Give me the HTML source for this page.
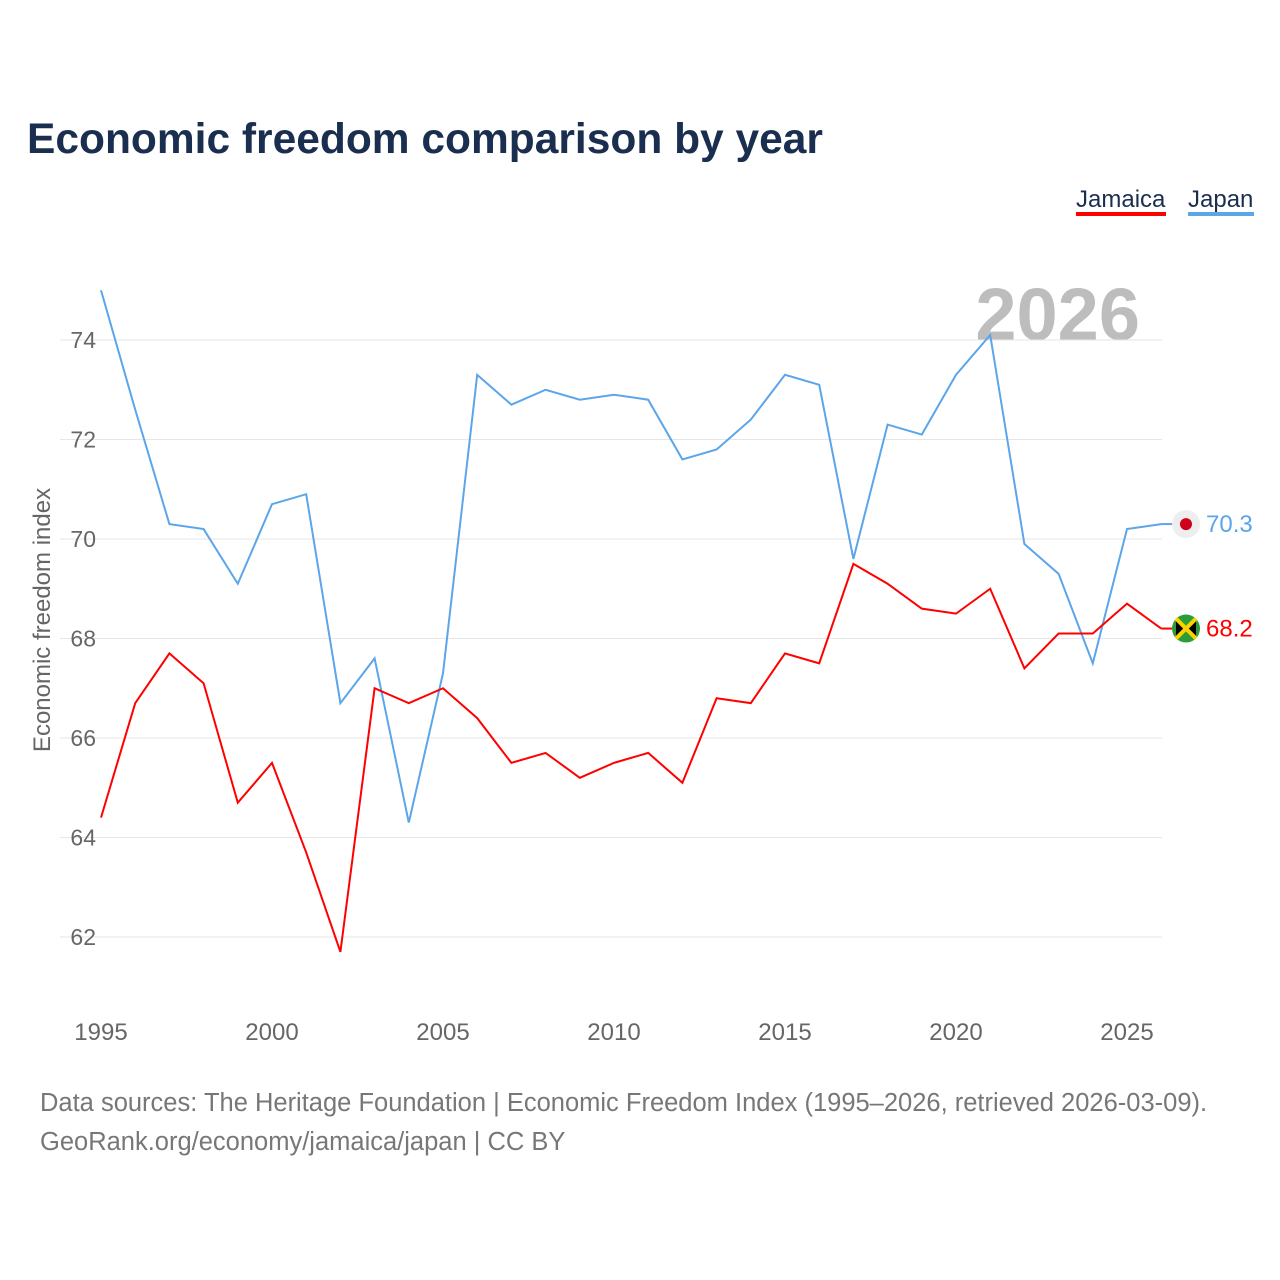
<!DOCTYPE html>
<html><head><meta charset="utf-8"><style>
body{margin:0;background:#fff;font-family:"Liberation Sans",sans-serif}
</style></head><body>
<svg id="c" width="1280" height="1280" style="display:block">
<text x="27" y="153" font-size="42.5" font-weight="bold" fill="#1a2e4f">Economic freedom comparison by year</text>
<g><text x="1076" y="207" font-size="24" fill="#1a2e4f">Jamaica</text><rect x="1076" y="212" width="90" height="4" fill="#ff0000"/></g>
<g><text x="1188" y="207" font-size="24" fill="#1a2e4f">Japan</text><rect x="1188" y="212" width="66" height="4" fill="#5ba5ea"/></g>
<text x="1140" y="340" font-size="74" font-weight="bold" fill="#bdbdbd" text-anchor="end">2026</text>
<text transform="translate(50,620) rotate(-90)" font-size="24" fill="#666" text-anchor="middle">Economic freedom index</text>
<g id="grid"></g><g id="lines"></g>
<text x="40" y="1111" font-size="25.5" fill="#777">Data sources: The Heritage Foundation | Economic Freedom Index (1995–2026, retrieved 2026-03-09).</text>
<text x="40" y="1150" font-size="25.5" fill="#777">GeoRank.org/economy/jamaica/japan | CC BY</text>
</svg>
<script>
const years=[1995,1996,1997,1998,1999,2000,2001,2002,2003,2004,2005,2006,2007,2008,2009,2010,2011,2012,2013,2014,2015,2016,2017,2018,2019,2020,2021,2022,2023,2024,2025,2026];
const japan=[75.0,72.6,70.3,70.2,69.1,70.7,70.9,66.7,67.6,64.3,67.3,73.3,72.7,73.0,72.8,72.9,72.8,71.6,71.8,72.4,73.3,73.1,69.6,72.3,72.1,73.3,74.1,69.9,69.3,67.5,70.2,70.3];
const jamaica=[64.4,66.7,67.7,67.1,64.7,65.5,63.7,61.7,67.0,66.7,67.0,66.4,65.5,65.7,65.2,65.5,65.7,65.1,66.8,66.7,67.7,67.5,69.5,69.1,68.6,68.5,69.0,67.4,68.1,68.1,68.7,68.2];
const yTicks=[62,64,66,68,70,72,74];
const xTicks=[1995,2000,2005,2010,2015,2020,2025];
const X=y=>101+(y-1995)*(1026/30);
const Y=v=>340+(74-v)*(597/12);
const NS="http://www.w3.org/2000/svg";
function mk(t,a,p){const e=document.createElementNS(NS,t);for(const k in a)e.setAttribute(k,a[k]);p.appendChild(e);return e;}
const g=document.getElementById('grid'),L=document.getElementById('lines');
yTicks.forEach(v=>{
const l=mk('line',{x1:60,x2:1162,y1:Y(v),y2:Y(v),stroke:'#e6e6e6','stroke-width':1},g);


const t=mk('text',{x:96,y:Y(v)+8,'font-size':23,fill:'#666','text-anchor':'end'},g);t.textContent=v;


});
xTicks.forEach(v=>{
const t=mk('text',{x:X(v),y:1040,'font-size':24,fill:'#666','text-anchor':'middle'},g);t.textContent=v;


});
function series(vals,col,name){
const p=mk('polyline',{points:vals.map((v,i)=>X(years[i])+','+Y(v)).join(' '),fill:'none',stroke:col,'stroke-width':2},L);


const last=vals[vals.length-1];
const ln=mk('line',{x1:X(years[years.length-1]),x2:1175,y1:Y(last),y2:Y(last),stroke:col,'stroke-width':2},L);


const t=mk('text',{x:1206,y:Y(last)+8,'font-size':24,fill:col},L);t.textContent=last.toFixed(1);


return Y(last);
}
const yj=series(japan,'#5ba5ea','japan');
const ym=series(jamaica,'#ff0000','jamaica');
let f=mk('circle',{cx:1186,cy:yj,r:14,fill:'#eee'},L);


mk('circle',{cx:1186,cy:yj,r:6,fill:'#d0021b'},L);
f=mk('circle',{cx:1186,cy:ym,r:14,fill:'#2a9d3a'},L);


mk('path',{d:`M1176 ${ym-10}L1186 ${ym}L1176 ${ym+10}Z M1196 ${ym-10}L1186 ${ym}L1196 ${ym+10}Z`,fill:'#000'},L);
mk('path',{d:`M1176 ${ym-10}L1196 ${ym+10}M1196 ${ym-10}L1176 ${ym+10}`,stroke:'#fed100','stroke-width':4},L);
</script>
</body></html>
